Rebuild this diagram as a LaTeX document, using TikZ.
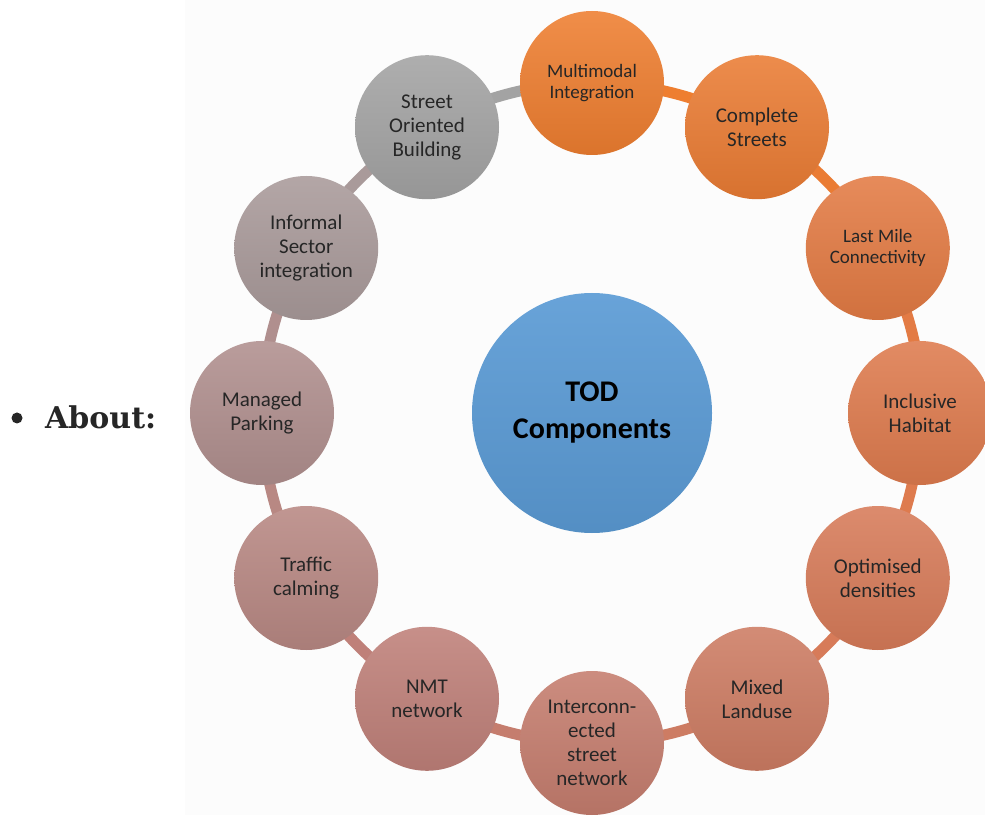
\documentclass[tikz,border=0pt]{standalone}
\usepackage{fontspec}
\setmainfont{Carlito}
\newfontfamily\aboutfont{DejaVu Serif}
\usetikzlibrary{backgrounds,calc}
\definecolor{cA}{HTML}{EE7E30}
\definecolor{cB}{HTML}{EA7C34}
\definecolor{cC}{HTML}{E37B44}
\definecolor{cD}{HTML}{DE7B4E}
\definecolor{cE}{HTML}{D77B59}
\definecolor{cF}{HTML}{CD7C63}
\definecolor{cG}{HTML}{C57D6E}
\definecolor{cH}{HTML}{BF8079}
\definecolor{cI}{HTML}{B88883}
\definecolor{cJ}{HTML}{B08F8E}
\definecolor{cK}{HTML}{A99A9A}
\definecolor{cL}{HTML}{A3A3A3}
\definecolor{cBlue}{HTML}{5B9BD5}
\definecolor{txt}{HTML}{262626}
\tikzset{
  comp/.style={circle, minimum size=144pt, inner sep=0pt, align=center,
    text=txt, font=\fontsize{21}{24}\selectfont,
    top color=#1!88!white, bottom color=#1!92!black},
  ringseg/.style={line width=11pt, draw=#1},
  hub/.style={circle, minimum size=240pt, inner sep=0pt, align=center,
    text=black, font=\fontsize{30}{37}\selectfont\bfseries,
    top color=cBlue!92!white, bottom color=cBlue!92!black}
}
\begin{document}
\begin{tikzpicture}[x=1pt,y=1pt]
\useasboundingbox (0,0) rectangle (985,815);
\coordinate (C) at (592,402);
\node[hub] (hub) at (C) {TOD\\Components};
\node[comp=cA, font=\fontsize{19}{21}\selectfont] (n1) at ($(C)+(90:330)$) {Multimodal\\Integration};
\node[comp=cB] (n2) at ($(C)+(60:330)$) {Complete\\Streets};
\node[comp=cC, font=\fontsize{19}{21.5}\selectfont] (n3) at ($(C)+(30:330)$) {Last Mile\\Connectivity};
\node[comp=cD] (n4) at ($(C)+(0:328)$) {Inclusive\\Habitat};
\node[comp=cE] (n5) at ($(C)+(-30:330)$) {Optimised\\densities};
\node[comp=cF] (n6) at ($(C)+(-60:330)$) {Mixed\\Landuse};
\node[comp=cG] (n7) at ($(C)+(-90:330)$) {Interconn-\\ected\\street\\network};
\node[comp=cH] (n8) at ($(C)+(-120:330)$) {NMT\\network};
\node[comp=cI] (n9) at ($(C)+(-150:330)$) {Traffic\\calming};
\node[comp=cJ] (n10) at ($(C)+(180:330)$) {Managed\\Parking};
\node[comp=cK] (n11) at ($(C)+(150:330)$) {Informal\\Sector\\integration};
\node[comp=cL] (n12) at ($(C)+(120:330)$) {Street\\Oriented\\Building};
\begin{scope}[on background layer]
  \fill[black!1] (185,0) rectangle (985,815);
  \draw[ringseg=cA] (n1.center) arc[start angle=90, end angle=60, radius=330];
  \draw[ringseg=cB] (n2.center) arc[start angle=60, end angle=30, radius=330];
  \draw[ringseg=cC] (n3.center) arc[start angle=30, end angle=0, radius=330];
  \draw[ringseg=cD] (n4.center) arc[start angle=0, end angle=-30, radius=330];
  \draw[ringseg=cE] (n5.center) arc[start angle=-30, end angle=-60, radius=330];
  \draw[ringseg=cF] (n6.center) arc[start angle=-60, end angle=-90, radius=330];
  \draw[ringseg=cG] (n7.center) arc[start angle=-90, end angle=-120, radius=330];
  \draw[ringseg=cH] (n8.center) arc[start angle=-120, end angle=-150, radius=330];
  \draw[ringseg=cI] (n9.center) arc[start angle=-150, end angle=-180, radius=330];
  \draw[ringseg=cJ] (n10.center) arc[start angle=180, end angle=150, radius=330];
  \draw[ringseg=cK] (n11.center) arc[start angle=150, end angle=120, radius=330];
  \draw[ringseg=cL] (n12.center) arc[start angle=120, end angle=90, radius=330];
\end{scope}
\fill[black!85] (17,397) circle (5.5);
\node[anchor=base west, inner sep=0pt, text=black!85, font=\aboutfont\bfseries\fontsize{30}{36}\selectfont] (about) at (45,387) {About:};
\end{tikzpicture}
\end{document}
